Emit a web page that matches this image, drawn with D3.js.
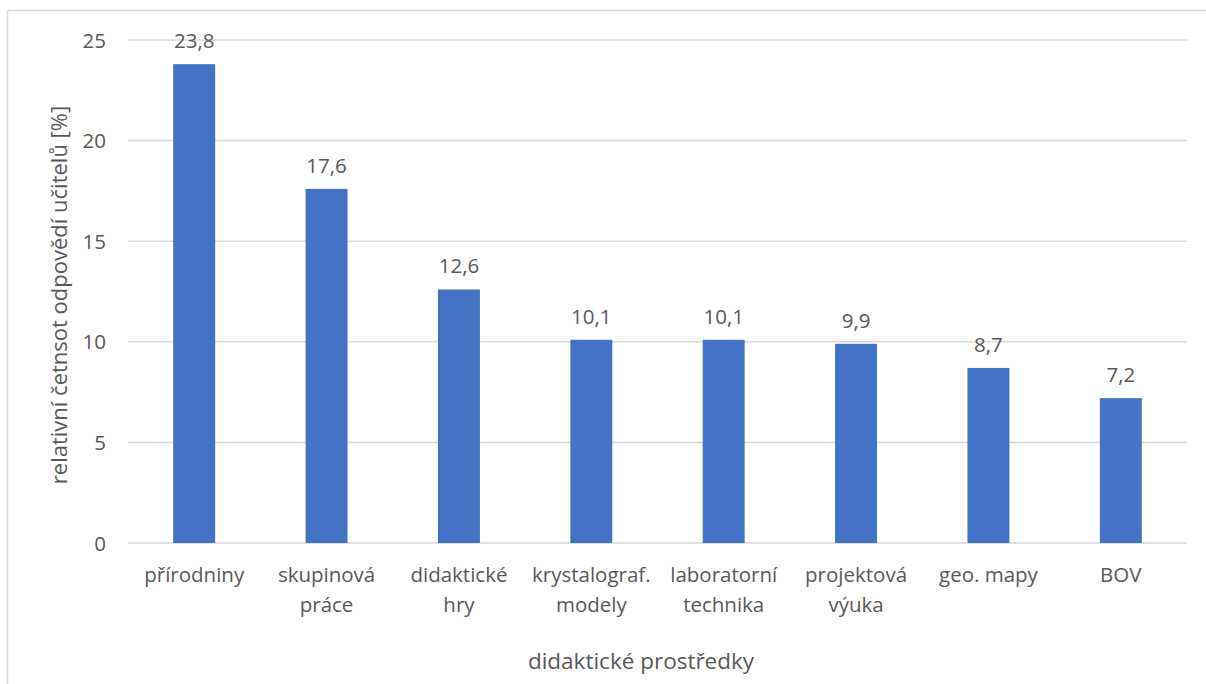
<!DOCTYPE html>
<html><head><meta charset="utf-8">
<script src="https://cdn.jsdelivr.net/npm/d3@7"></script>
<style>
body{margin:0;background:#fff;}
text{font-family:"Open Sans",sans-serif;fill:#595959;}
</style></head>
<body><svg id="c" width="1206" height="684"></svg>
<script>
const categories = [["přírodniny"],["skupinová","práce"],["didaktické","hry"],["krystalograf.","modely"],["laboratorní","technika"],["projektová","výuka"],["geo. mapy"],["BOV"]];
const values = [23.8,17.6,12.6,10.1,10.1,9.9,8.7,7.2];
const yTicks = [0,5,10,15,20,25];
const xTitle = "didaktické prostředky";
const yTitle = "relativní četnsot odpovědí učitelů [%]";

const svg = d3.select("#c");
svg.append("rect").attr("x",7.5).attr("y",10.5).attr("width",1220).attr("height",700)
  .attr("fill","none").attr("stroke","#d9d9d9").attr("stroke-width",1.5);

const x = d3.scaleBand().domain(d3.range(categories.length)).range([128,1187]).paddingInner(0.683).paddingOuter(0.3415);
const y = d3.scaleLinear().domain([0,25]).range([543,40]);

const g = svg.append("g");
g.selectAll("line.grid").data(yTicks).join("line").attr("class","grid")
  .attr("x1",128).attr("x2",1187).attr("y1",d=>y(d)).attr("y2",d=>y(d))
  .attr("stroke","#d9d9d9").attr("stroke-width",1.5);

const yAxis = d3.axisLeft(y).tickValues(yTicks).tickSize(0).tickPadding(0).tickFormat(d=>d);
const ya = svg.append("g").attr("transform","translate(106,0)").call(yAxis);
ya.select(".domain").remove();
ya.selectAll("text").attr("font-size",20.5).attr("fill","#595959").style("font-family","'Open Sans',sans-serif").attr("dy","0.35em");

g.selectAll("rect.bar").data(values).join("rect").attr("class","bar")
  .attr("x",(d,i)=>x(i)).attr("width",x.bandwidth())
  .attr("y",d=>y(d)).attr("height",d=>y(0)-y(d)).attr("fill","#4472c4");

g.selectAll("text.lbl").data(values).join("text").attr("class","lbl")
  .attr("x",(d,i)=>x(i)+x.bandwidth()/2).attr("y",d=>y(d)-16)
  .attr("text-anchor","middle").attr("font-size",20.5)
  .text(d=>d.toFixed(1).replace(".",","));

const xAxis = d3.axisBottom(x).tickSize(0).tickFormat(()=> "");
const xa = svg.append("g").attr("transform","translate(0,543)").call(xAxis);
xa.select(".domain").remove();
xa.selectAll(".tick").each(function(i){
  const t = d3.select(this).append("text").attr("text-anchor","middle").attr("font-size",20.5).attr("fill","#595959");
  categories[i].forEach((s,k)=>t.append("tspan").attr("x",0).attr("y",39+k*30).text(s));
});

svg.append("text").attr("x",641).attr("y",669).attr("text-anchor","middle").attr("font-size",22.5).text(xTitle);
svg.append("text").attr("transform","translate(67,295) rotate(-90)").attr("text-anchor","middle").attr("font-size",22).text(yTitle);
</script></body></html>
